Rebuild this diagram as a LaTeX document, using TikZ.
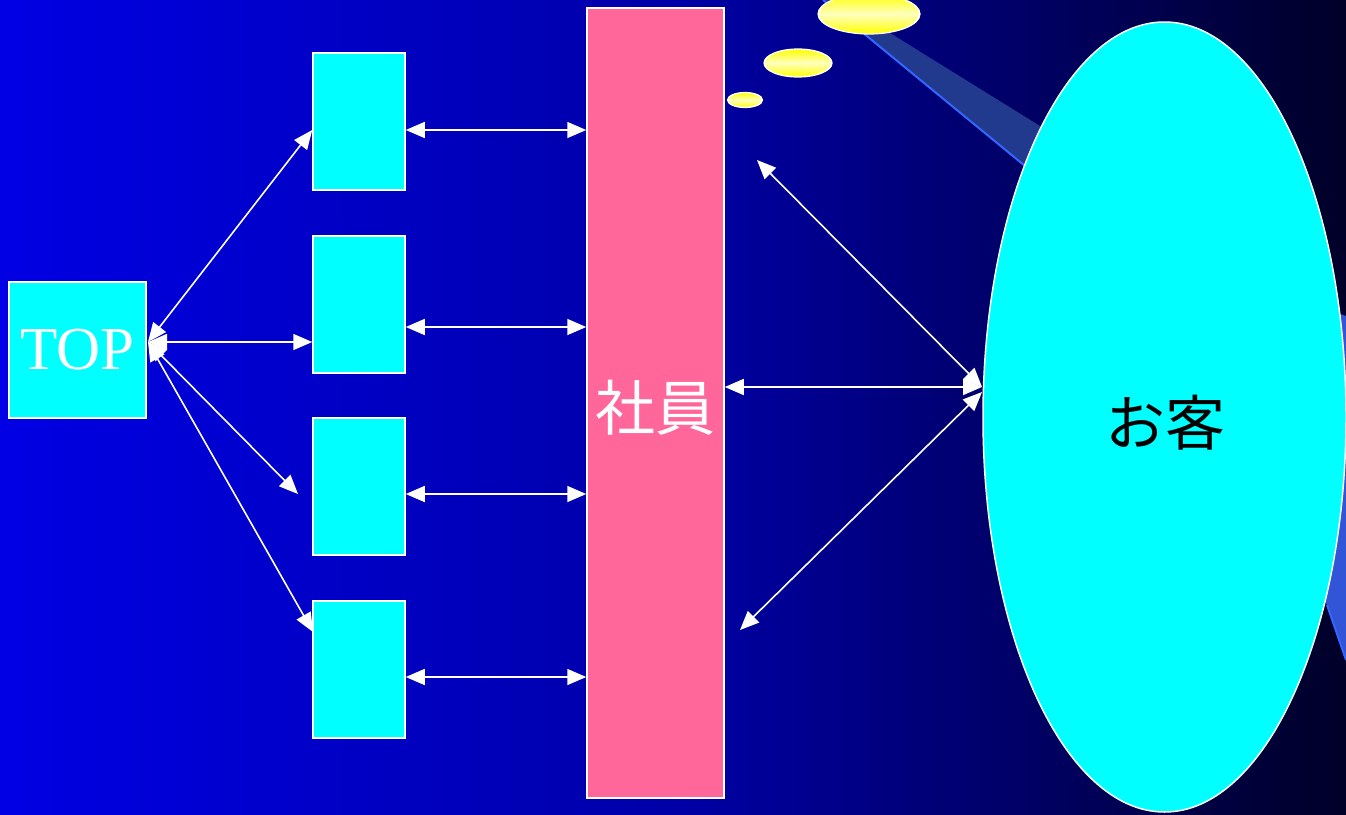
\documentclass[tikz,border=0pt]{standalone}
\usepackage{fontspec}
\setmainfont{Liberation Serif}
\newfontfamily\cjk{Noto Sans CJK JP}
\usetikzlibrary{arrows.meta,shapes.geometric}
\definecolor{bgl}{RGB}{0,0,228}
\definecolor{bgm}{RGB}{0,0,168}
\definecolor{bgr}{RGB}{0,0,40}
\definecolor{cy}{RGB}{0,255,255}
\definecolor{pk}{RGB}{255,102,153}
\definecolor{swdark}{RGB}{34,58,142}
\definecolor{swlight}{RGB}{50,84,214}
\definecolor{swline}{RGB}{51,102,255}
\definecolor{bubl}{RGB}{255,255,190}
\begin{document}
\begin{tikzpicture}[x=1pt,y=-1pt,
  box/.style={draw=white,line width=1.5pt,fill=cy,inner sep=0pt,minimum width=92pt,minimum height=137pt},
  bubble/.style={draw=white,line width=1.2pt,top color=yellow,bottom color=yellow,middle color=bubl},
  link/.style={draw=white,line width=1.6pt,{Triangle[length=19pt,width=16pt]}-{Triangle[length=19pt,width=16pt]}}]
\useasboundingbox (0,0) rectangle (1346,814);
\shade[left color=bgl,right color=bgr,middle color=bgm] (0,0) rectangle (1346,814);
% swoosh
\fill[swdark] (823,0) -- (1025,166) -- (1090,166) -- (1040,126) -- (869,20) -- (860,0) -- cycle;
\draw[swline,line width=2pt] (823,0) -- (1025,166);
\fill[swlight] (1300,300) -- (1346,316) -- (1346,660) -- (1327,605) -- (1300,560) -- cycle;
\draw[swline,line width=2pt] (1327,605) -- (1346,660);
% bubbles
\path[bubble] (869,14) ellipse [x radius=51,y radius=20];
\path[bubble] (798,63) ellipse [x radius=34,y radius=14];
\path[bubble] (745,100) ellipse [x radius=17.5,y radius=7.5];
% nodes
\node[box,minimum width=137pt,minimum height=136pt,text=white,font=\fontsize{61}{64}\selectfont] (top) at (77.5,350) {TOP};
\node[box] (b1) at (359,121.5) {};
\node[box] (b2) at (359,304.5) {};
\node[box] (b3) at (359,486.5) {};
\node[box] (b4) at (359,669.5) {};
\node[draw=white,line width=1.5pt,fill=pk,inner sep=0pt,minimum width=137pt,minimum height=790pt] (bar) at (655.5,403) {};
\node[text=white,font=\cjk\fontsize{60}{64}\selectfont,inner sep=0pt] (barlabel) at (655,408) {社員};
\node[ellipse,draw=white,line width=1.5pt,fill=cy,inner sep=0pt,minimum width=363pt,minimum height=790pt] (cust) at (1164.5,417) {};
\node[font=\cjk\fontsize{60}{64}\selectfont,inner sep=0pt] (custlabel) at (1165,423) {お客};
% coordinates
\coordinate (tp) at (148,342);
\coordinate (cw) at (982,387);
\coordinate (u1) at (757,160);
\coordinate (d1) at (740,630);
\coordinate (e3) at (298,494);
\coordinate (e4) at (313,632);
% arrows
\draw[link] (tp) -- ([yshift=-8.5pt]b1.west);
\draw[link] (tp) -- (tp -| b2.west);
\draw[link] (tp) -- (e3);
\draw[link] (tp) -- (e4);
\draw[link] ([yshift=-8.5pt]b1.east) -- ([yshift=-8.5pt]b1.east -| bar.west);
\draw[link] ([yshift=-22.5pt]b2.east) -- ([yshift=-22.5pt]b2.east -| bar.west);
\draw[link] ([yshift=-7.5pt]b3.east) -- ([yshift=-7.5pt]b3.east -| bar.west);
\draw[link] ([yshift=-7.5pt]b4.east) -- ([yshift=-7.5pt]b4.east -| bar.west);
\draw[link] (cw -| bar.east) -- (cw);
\draw[link] (u1) -- (cw);
\draw[link] (d1) -- ([yshift=-5pt]cw);
\end{tikzpicture}
\end{document}
